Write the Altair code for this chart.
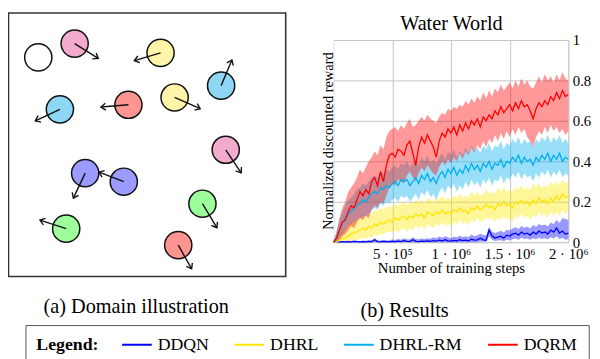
import math
import altair as alt
import pandas as pd

SERIF = "Liberation Serif"

# ---------------- results data ----------------
series_names = ["DDQN", "DHRL", "DHRL-RM", "DQRM"]
line_colors = ["#0000FF", "#FFE500", "#00AEEF", "#FF0000"]
steps = [i * 25000 for i in range(81)]

ddqn_mean = [0.000, 0.002, 0.002, 0.003, 0.002, 0.003, 0.002, 0.004, 0.003, 0.002,
             0.003, 0.002, 0.004, 0.003, 0.012, 0.003, 0.002, 0.004, 0.003, 0.002,
             0.004, 0.003, 0.005, 0.003, 0.008, 0.004, 0.003, 0.012, 0.004, 0.003,
             0.005, 0.004, 0.006, 0.004, 0.008, 0.005, 0.010, 0.006, 0.012, 0.007,
             0.005, 0.009, 0.006, 0.012, 0.008, 0.010, 0.007, 0.015, 0.010, 0.012,
             0.020, 0.012, 0.010, 0.060, 0.030, 0.020, 0.025, 0.030, 0.020, 0.035,
             0.030, 0.040, 0.045, 0.035, 0.050, 0.040, 0.045, 0.035, 0.050, 0.040,
             0.055, 0.045, 0.050, 0.040, 0.060, 0.050, 0.070, 0.045, 0.055, 0.040, 0.045]
ddqn_hi = [0.000, 0.004, 0.005, 0.006, 0.006, 0.007, 0.006, 0.008, 0.007, 0.006,
           0.008, 0.007, 0.010, 0.008, 0.020, 0.009, 0.008, 0.011, 0.010, 0.009,
           0.013, 0.011, 0.016, 0.012, 0.020, 0.015, 0.013, 0.025, 0.016, 0.014,
           0.018, 0.016, 0.020, 0.017, 0.024, 0.019, 0.028, 0.022, 0.030, 0.024,
           0.020, 0.028, 0.023, 0.032, 0.026, 0.030, 0.025, 0.038, 0.030, 0.034,
           0.042, 0.035, 0.033, 0.075, 0.052, 0.045, 0.050, 0.056, 0.048, 0.062,
           0.058, 0.068, 0.074, 0.065, 0.080, 0.072, 0.078, 0.068, 0.085, 0.075,
           0.090, 0.082, 0.088, 0.078, 0.098, 0.090, 0.110, 0.095, 0.120, 0.115, 0.110]
ddqn_lo = [0.000, 0.000, 0.000, 0.000, 0.000, 0.000, 0.000, 0.000, 0.000, 0.000,
           0.000, 0.000, 0.000, 0.000, 0.000, 0.000, 0.000, 0.000, 0.000, 0.000,
           0.000, 0.000, 0.000, 0.000, 0.000, 0.000, 0.000, 0.000, 0.000, 0.000,
           0.000, 0.000, 0.000, 0.000, 0.000, 0.000, 0.000, 0.000, 0.000, 0.000,
           0.000, 0.000, 0.000, 0.000, 0.000, 0.000, 0.000, 0.000, 0.000, 0.000,
           0.004, 0.002, 0.002, 0.030, 0.012, 0.006, 0.008, 0.010, 0.005, 0.012,
           0.010, 0.015, 0.018, 0.012, 0.022, 0.016, 0.018, 0.012, 0.020, 0.014,
           0.022, 0.016, 0.020, 0.014, 0.025, 0.018, 0.030, 0.016, 0.022, 0.012, 0.015]

dhrl_mean = [0.00, 0.00, 0.01, 0.02, 0.02, 0.03, 0.04, 0.05, 0.05, 0.06,
             0.07, 0.06, 0.08, 0.07, 0.09, 0.08, 0.10, 0.09, 0.10, 0.11,
             0.10, 0.12, 0.11, 0.12, 0.13, 0.11, 0.13, 0.12, 0.14, 0.13,
             0.14, 0.12, 0.15, 0.14, 0.13, 0.15, 0.14, 0.16, 0.14, 0.15,
             0.14, 0.16, 0.15, 0.17, 0.15, 0.16, 0.14, 0.17, 0.16, 0.18,
             0.16, 0.17, 0.19, 0.17, 0.18, 0.16, 0.19, 0.18, 0.20, 0.18,
             0.19, 0.17, 0.20, 0.19, 0.21, 0.19, 0.20, 0.18, 0.21, 0.19,
             0.22, 0.20, 0.21, 0.19, 0.22, 0.20, 0.23, 0.21, 0.24, 0.22, 0.23]
dhrl_hi = [0.00, 0.01, 0.04, 0.06, 0.07, 0.08, 0.10, 0.11, 0.11, 0.12,
           0.13, 0.12, 0.14, 0.14, 0.16, 0.15, 0.17, 0.16, 0.17, 0.18,
           0.17, 0.19, 0.18, 0.19, 0.20, 0.18, 0.20, 0.19, 0.21, 0.20,
           0.21, 0.19, 0.22, 0.21, 0.20, 0.22, 0.21, 0.23, 0.21, 0.22,
           0.21, 0.23, 0.22, 0.24, 0.22, 0.23, 0.22, 0.25, 0.23, 0.25,
           0.23, 0.24, 0.26, 0.24, 0.25, 0.24, 0.27, 0.25, 0.27, 0.25,
           0.26, 0.25, 0.27, 0.26, 0.28, 0.26, 0.27, 0.26, 0.29, 0.27,
           0.29, 0.27, 0.28, 0.27, 0.30, 0.28, 0.30, 0.28, 0.31, 0.29, 0.30]
dhrl_lo = [0.00, 0.00, 0.00, 0.00, 0.00, 0.00, 0.01, 0.01, 0.01, 0.02,
           0.02, 0.02, 0.03, 0.02, 0.04, 0.03, 0.04, 0.04, 0.05, 0.05,
           0.05, 0.06, 0.05, 0.06, 0.07, 0.05, 0.07, 0.06, 0.08, 0.07,
           0.08, 0.06, 0.09, 0.08, 0.07, 0.09, 0.08, 0.10, 0.08, 0.09,
           0.08, 0.10, 0.09, 0.11, 0.09, 0.10, 0.08, 0.11, 0.10, 0.12,
           0.10, 0.11, 0.12, 0.11, 0.12, 0.10, 0.12, 0.11, 0.13, 0.11,
           0.12, 0.10, 0.13, 0.12, 0.14, 0.12, 0.13, 0.11, 0.14, 0.12,
           0.15, 0.13, 0.14, 0.12, 0.15, 0.13, 0.15, 0.13, 0.16, 0.14, 0.15]

dhrlrm_mean = [0.00, 0.02, 0.06, 0.09, 0.12, 0.14, 0.15, 0.17, 0.18, 0.19,
               0.21, 0.20, 0.22, 0.24, 0.25, 0.24, 0.27, 0.26, 0.28, 0.27,
               0.29, 0.30, 0.28, 0.31, 0.30, 0.31, 0.28, 0.30, 0.32, 0.29,
               0.33, 0.31, 0.34, 0.30, 0.32, 0.29, 0.33, 0.35, 0.32, 0.36,
               0.34, 0.37, 0.33, 0.36, 0.34, 0.38, 0.35, 0.39, 0.36, 0.38,
               0.35, 0.39, 0.37, 0.40, 0.36, 0.39, 0.38, 0.41, 0.37, 0.40,
               0.39, 0.42, 0.40, 0.43, 0.39, 0.42, 0.40, 0.41, 0.38, 0.42,
               0.40, 0.43, 0.41, 0.44, 0.40, 0.43, 0.41, 0.44, 0.40, 0.42, 0.41]
dhrlrm_hi = [0.00, 0.05, 0.11, 0.15, 0.18, 0.21, 0.22, 0.24, 0.26, 0.27,
             0.29, 0.28, 0.30, 0.32, 0.33, 0.32, 0.35, 0.34, 0.36, 0.35,
             0.37, 0.38, 0.36, 0.39, 0.38, 0.40, 0.37, 0.39, 0.41, 0.38,
             0.42, 0.40, 0.43, 0.39, 0.41, 0.39, 0.42, 0.44, 0.41, 0.45,
             0.43, 0.46, 0.42, 0.45, 0.43, 0.47, 0.44, 0.48, 0.45, 0.47,
             0.44, 0.48, 0.46, 0.49, 0.45, 0.48, 0.47, 0.50, 0.46, 0.49,
             0.48, 0.51, 0.49, 0.52, 0.48, 0.51, 0.49, 0.50, 0.47, 0.51,
             0.49, 0.52, 0.50, 0.53, 0.49, 0.52, 0.50, 0.53, 0.49, 0.51, 0.49]
dhrlrm_lo = [0.00, 0.00, 0.02, 0.04, 0.06, 0.08, 0.09, 0.10, 0.11, 0.12,
             0.13, 0.13, 0.14, 0.16, 0.17, 0.16, 0.19, 0.18, 0.20, 0.19,
             0.21, 0.22, 0.20, 0.23, 0.22, 0.23, 0.20, 0.22, 0.24, 0.21,
             0.25, 0.23, 0.26, 0.22, 0.24, 0.21, 0.25, 0.27, 0.24, 0.28,
             0.26, 0.29, 0.25, 0.28, 0.26, 0.30, 0.27, 0.31, 0.28, 0.30,
             0.27, 0.31, 0.29, 0.32, 0.28, 0.31, 0.30, 0.33, 0.29, 0.32,
             0.31, 0.34, 0.32, 0.35, 0.31, 0.34, 0.32, 0.33, 0.30, 0.34,
             0.32, 0.35, 0.33, 0.36, 0.32, 0.35, 0.33, 0.36, 0.32, 0.34, 0.33]

dqrm_mean = [0.00, 0.02, 0.06, 0.10, 0.11, 0.15, 0.18, 0.17, 0.21, 0.25,
             0.23, 0.26, 0.24, 0.30, 0.32, 0.28, 0.35, 0.30, 0.38, 0.43,
             0.44, 0.42, 0.46, 0.45, 0.43, 0.48, 0.50, 0.44, 0.38, 0.47,
             0.52, 0.49, 0.53, 0.50, 0.47, 0.42, 0.50, 0.54, 0.52, 0.56,
             0.54, 0.57, 0.53, 0.58, 0.55, 0.59, 0.56, 0.60, 0.58, 0.61,
             0.57, 0.62, 0.60, 0.63, 0.61, 0.65, 0.63, 0.67, 0.64, 0.66,
             0.68, 0.65, 0.69, 0.66, 0.70, 0.67, 0.68, 0.65, 0.61, 0.66,
             0.69, 0.67, 0.70, 0.68, 0.72, 0.70, 0.74, 0.71, 0.75, 0.72, 0.73]
dqrm_hi = [0.00, 0.05, 0.12, 0.17, 0.20, 0.25, 0.27, 0.29, 0.32, 0.36,
           0.34, 0.37, 0.40, 0.42, 0.45, 0.43, 0.48, 0.46, 0.52, 0.55,
           0.56, 0.57, 0.55, 0.58, 0.56, 0.59, 0.61, 0.57, 0.58, 0.60,
           0.62, 0.60, 0.63, 0.61, 0.60, 0.59, 0.62, 0.64, 0.63, 0.66,
           0.65, 0.67, 0.66, 0.68, 0.67, 0.70, 0.68, 0.71, 0.69, 0.72,
           0.70, 0.74, 0.71, 0.75, 0.72, 0.76, 0.74, 0.78, 0.75, 0.77,
           0.79, 0.76, 0.80, 0.77, 0.81, 0.78, 0.80, 0.77, 0.76, 0.79,
           0.82, 0.79, 0.83, 0.80, 0.82, 0.79, 0.83, 0.80, 0.84, 0.81, 0.80]
dqrm_lo = [0.00, 0.00, 0.01, 0.03, 0.04, 0.06, 0.08, 0.07, 0.10, 0.12,
           0.11, 0.13, 0.12, 0.16, 0.18, 0.17, 0.20, 0.19, 0.23, 0.27,
           0.29, 0.28, 0.31, 0.30, 0.29, 0.33, 0.35, 0.32, 0.30, 0.34,
           0.37, 0.35, 0.38, 0.36, 0.34, 0.33, 0.37, 0.40, 0.38, 0.41,
           0.39, 0.42, 0.40, 0.44, 0.41, 0.45, 0.43, 0.47, 0.44, 0.48,
           0.46, 0.50, 0.47, 0.51, 0.49, 0.53, 0.50, 0.54, 0.51, 0.55,
           0.52, 0.56, 0.53, 0.57, 0.54, 0.56, 0.52, 0.50, 0.47, 0.52,
           0.55, 0.53, 0.57, 0.54, 0.58, 0.55, 0.57, 0.54, 0.56, 0.53, 0.55]

x_tick_values = [500000, 1000000, 1500000, 2000000]
x_tick_labels = ["5 · 10⁵", "1 · 10⁶", "1.5 · 10⁶", "2 · 10⁶"]
y_tick_values = [0, 0.2, 0.4, 0.6, 0.8, 1]

# ---------------- illustration data (world units of the box) ----------------
ball_kind = ["white", "pink", "yellow", "blue", "blue", "red", "yellow",
             "pink", "purple", "purple", "green", "green", "red"]
ball_x = [30.3, 67.3, 154.7, 216.3, 52.3, 122.0, 169.0, 221.0, 78.0, 117.3, 197.3, 58.7, 172.7]
ball_y = [45.0, 31.0, 40.3, 73.6, 97.6, 93.0, 85.6, 138.6, 162.3, 171.0, 193.3, 218.6, 235.3]
arrow_x = [None, 91.3, 128.0, 227.3, 27.3, 94.0, 195.0, 236.7, 66.0, 92.0, 212.0, 32.0, 186.3]
arrow_y = [None, 46.0, 48.3, 47.6, 109.3, 95.3, 97.0, 162.0, 187.6, 161.3, 217.6, 210.0, 259.3]
box_w, box_h = 282, 267
kind_colors = {"white": "#FFFFFF", "pink": "#F2AACD", "yellow": "#FFF5A8",
               "blue": "#8DD6F4", "red": "#FF9591", "purple": "#9B9BFF", "green": "#9CFF9C"}

title_text = "Water World"
captions = ["(a) Domain illustration", "(b) Results"]
NBSP = "\u00a0"

# ---------------- build tables ----------------
table = {
    "DDQN": (ddqn_mean, ddqn_lo, ddqn_hi),
    "DHRL": (dhrl_mean, dhrl_lo, dhrl_hi),
    "DHRL-RM": (dhrlrm_mean, dhrlrm_lo, dhrlrm_hi),
    "DQRM": (dqrm_mean, dqrm_lo, dqrm_hi),
}
rows = []
for name in series_names:
    m, lo, hi = table[name]
    assert len(m) == len(lo) == len(hi) == len(steps), name
    for s, a, b, c in zip(steps, m, lo, hi):
        rows.append({"series": name, "step": s, "mean": a, "lo": b, "hi": c})
res_df = pd.DataFrame(rows)

balls_df = pd.DataFrame({"wx": ball_x, "wy": ball_y,
                         "fillc": [kind_colors[k] for k in ball_kind]})
arr_rows = []
for x0, y0, x1, y1 in zip(ball_x, ball_y, arrow_x, arrow_y):
    if x1 is None:
        continue
    ang = math.degrees(math.atan2(y1 - y0, x1 - x0)) % 360
    arr_rows.append({"wx": x0, "wy": y0, "ex": x1, "ey": y1, "ang": ang})
arrows_df = pd.DataFrame(arr_rows)
box_df = pd.DataFrame({"x0": [0], "x1": [box_w], "y0": [0], "y1": [box_h]})

# ---------------- illustration layer ----------------
ix = alt.Scale(domain=[0, box_w], range=[-329.5, -48.5], nice=False, zero=False)
iy = alt.Scale(domain=[0, box_h], range=[-27.3, 239.7], nice=False, zero=False)

box = alt.Chart(box_df).mark_rect(fillOpacity=0, stroke="#333333", strokeWidth=1.6).encode(
    x=alt.X("x0:Q", scale=ix, axis=None), x2="x1:Q",
    y=alt.Y("y0:Q", scale=iy, axis=None), y2="y1:Q")
circles = alt.Chart(balls_df).mark_point(shape="circle", filled=True, size=760, opacity=1,
                                         stroke="#111111", strokeWidth=1.5).encode(
    x=alt.X("wx:Q", scale=ix, axis=None),
    y=alt.Y("wy:Q", scale=iy, axis=None),
    fill=alt.Fill("fillc:N", scale=None))
shafts = alt.Chart(arrows_df).mark_rule(color="#111111", strokeWidth=1.4).encode(
    x=alt.X("wx:Q", scale=ix, axis=None), x2="ex:Q",
    y=alt.Y("wy:Q", scale=iy, axis=None), y2="ey:Q")
heads = alt.Chart(arrows_df).mark_point(shape="M -1 -0.75 L 0 0 L -1 0.75", filled=False,
                                        size=90, color="#111111", strokeWidth=1.4, opacity=1).encode(
    x=alt.X("ex:Q", scale=ix, axis=None),
    y=alt.Y("ey:Q", scale=iy, axis=None),
    angle=alt.Angle("ang:Q", scale=None))
illustration = alt.layer(box, circles, shafts, heads)

# ---------------- results layer ----------------
label_expr = " : ".join(
    f"datum.value == {v} ? '{t}'" for v, t in zip(x_tick_values[:-1], x_tick_labels[:-1])
) + f" : '{x_tick_labels[-1]}'"

x_axis = alt.Axis(orient="bottom", values=x_tick_values, labelExpr=label_expr,
                  labelFont=SERIF, labelFontSize=15, labelColor="#000",
                  labelBaseline="alphabetic", labelPadding=17,
                  labelFlush=False, labelOverlap=False,
                  title="Number of training steps", titleFont=SERIF, titleFontSize=15,
                  titleFontWeight="normal", titleColor="#000",
                  titleBaseline="alphabetic", titleY=31,
                  grid=True, gridColor="#C4C4C4", ticks=False, domain=False)
y_axis = alt.Axis(orient="right", values=y_tick_values, format="~g",
                  labelFont=SERIF, labelFontSize=15, labelColor="#000", labelPadding=4,
                  labelBaseline="middle",
                  title="Normalized discounted reward", titleFont=SERIF, titleFontSize=14.6,
                  titleFontWeight="normal", titleColor="#000", titleAngle=270,
                  titleX=-243, titleY=102, titleAlign="center", titleBaseline="middle",
                  grid=True, gridColor="#C4C4C4", ticks=False, domain=False)
rx = alt.Scale(domain=[0, 2000000], nice=False, zero=False)
ry = alt.Scale(domain=[0, 1], nice=False)
cscale = alt.Scale(domain=series_names, range=line_colors)
last = series_names[-1]
legend = alt.Legend(orient="none", legendX=-312.3, legendY=289,
                    direction="horizontal", columns=4,
                    title=NBSP * 2 + "Legend:", titleOrient="left",
                    titleFont=SERIF, titleFontSize=18, titleFontWeight="bold",
                    titleColor="#000", titlePadding=23,
                    labelFont=SERIF, labelFontSize=18, labelColor="#000",
                    labelExpr=f"datum.label == '{last}' ? datum.label + '{NBSP * 2}' : datum.label",
                    labelOffset=5, labelLimit=300, columnPadding=25,
                    symbolType="stroke", symbolSize=900, symbolStrokeWidth=2,
                    symbolOpacity=1, clipHeight=18,
                    strokeColor="#555555", fillColor="#FFFFFF", padding=11)

bands = alt.Chart(res_df).mark_area(opacity=0.4, strokeWidth=0).encode(
    x=alt.X("step:Q", scale=rx, axis=x_axis),
    y=alt.Y("lo:Q", scale=ry, axis=y_axis),
    y2="hi:Q",
    color=alt.Color("series:N", scale=cscale, legend=legend))
lines = alt.Chart(res_df).mark_line(strokeWidth=1.3).encode(
    x=alt.X("step:Q", scale=rx, axis=x_axis),
    y=alt.Y("mean:Q", scale=ry, axis=y_axis),
    color=alt.Color("series:N", scale=cscale, legend=legend),
    order=alt.Order("step:Q"))
results = alt.layer(bands, lines)

# ---------------- title and captions ----------------
ttl = alt.Chart(pd.DataFrame({"t": [title_text]})).mark_text(
    font=SERIF, fontSize=20.5, color="#000", baseline="alphabetic", align="center").encode(
    text="t:N", x=alt.value(119.5), y=alt.value(-10.5))
cap_a = alt.Chart(pd.DataFrame({"t": [captions[0]]})).mark_text(
    font=SERIF, fontSize=20.5, color="#000", baseline="middle", align="center").encode(
    text="t:N", x=alt.value(-200), y=alt.value(271))
cap_b = alt.Chart(pd.DataFrame({"t": [captions[1]]})).mark_text(
    font=SERIF, fontSize=20.5, color="#000", baseline="middle", align="center").encode(
    text="t:N", x=alt.value(72), y=alt.value(275))

chart = alt.layer(illustration, results, ttl, cap_a, cap_b).resolve_scale(
    x="independent", y="independent").properties(
    width=238, height=205,
    padding={"left": 330, "top": 30, "right": 24, "bottom": 116},
    autosize=alt.AutoSizeParams(type="none"),
).configure_view(stroke="#111111", strokeWidth=1
).configure(font=SERIF
).configure_text(font=SERIF)

chart.save("out.html", embed_options={"renderer": "svg", "actions": False})
